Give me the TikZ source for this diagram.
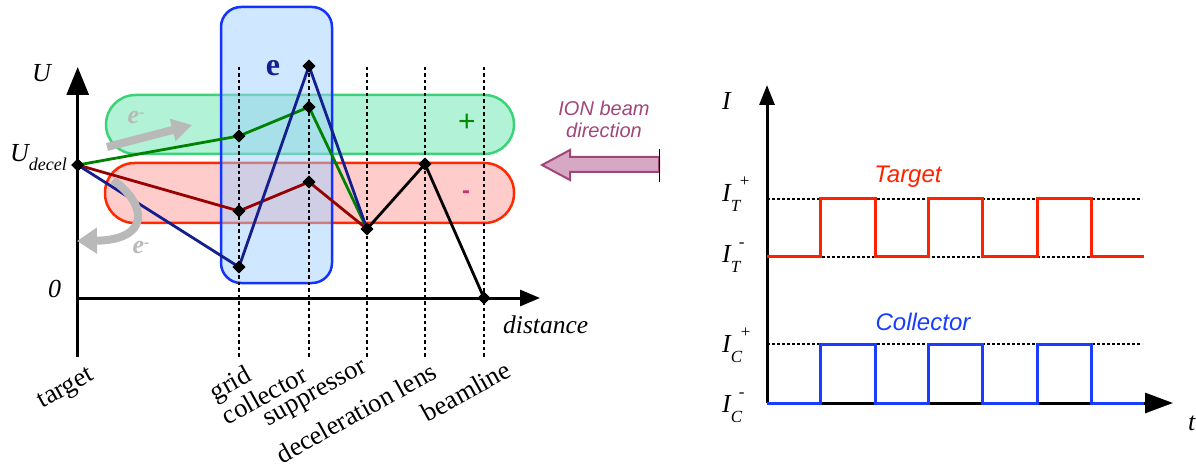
\documentclass[tikz,border=0pt]{standalone}
\usepackage{fontspec}
\setmainfont{Liberation Serif}
\setsansfont{Liberation Sans}
\usetikzlibrary{arrows.meta,shapes.geometric}
\definecolor{cgreen}{RGB}{0,130,0}
\definecolor{cdred}{RGB}{150,0,0}
\definecolor{cnavy}{RGB}{20,30,140}
\definecolor{bgfill}{RGB}{178,242,214}
\definecolor{bgdraw}{RGB}{60,210,120}
\definecolor{brfill}{RGB}{255,204,204}
\definecolor{brdraw}{RGB}{255,40,0}
\definecolor{boxfill}{RGB}{160,208,255}
\definecolor{boxdraw}{RGB}{20,50,255}
\definecolor{plusc}{RGB}{0,140,0}
\definecolor{minusc}{RGB}{200,50,110}
\definecolor{ionc}{RGB}{160,70,120}
\definecolor{ionfill}{RGB}{215,168,196}
\definecolor{grayA}{RGB}{185,185,185}
\definecolor{wred}{RGB}{255,34,0}
\definecolor{wblue}{RGB}{26,60,255}
\newcommand{\Ilbl}[3]{\fontsize{26}{26}\selectfont\itshape I\rlap{\raisebox{-10pt}{\fontsize{17}{17}\selectfont #1}}\kern#3\raisebox{15pt}{\fontsize{17}{17}\selectfont\upshape #2}}
\begin{document}
\begin{tikzpicture}[x=1pt,y=-1pt,
  every node/.style={inner sep=0pt},
  axisline/.style={line width=3pt, draw=black},
  vdash/.style={line width=1.2pt, dash pattern=on 3.5pt off 3pt},
  hdot/.style={line width=1.2pt, dash pattern=on 2.5pt off 2.5pt},
  dmd/.style={diamond, fill=black, minimum width=13pt, minimum height=13pt, inner sep=0pt},
  pline/.style={line width=2.8pt, line join=round},
  lbl/.style={font=\fontsize{26.5}{27}\selectfont, rotate=29, anchor=north east},
  band/.style={line width=2.5pt, rounded corners=29.5pt},
  grayarr/.style={line width=8pt, draw=grayA},
  wave/.style={line width=3pt, line join=miter},
  ax/.style={font=\fontsize{26}{26}\selectfont\itshape, anchor=base west}
]
\useasboundingbox (0,0) rectangle (1196,470);

% bands
\draw[band, fill=bgfill, draw=bgdraw] (106,95) rectangle (514,154);
\draw[band, fill=brfill, draw=brdraw] (105,163) rectangle (514,223);
\node[font=\sffamily\fontsize{30}{30}\selectfont, text=plusc] (plus) at (467,123) {+};
\node[font=\sffamily\bfseries\fontsize{24}{24}\selectfont, text=minusc] (minus) at (466,195) {-};

% blue box
\draw[line width=2.5pt, draw=boxdraw, fill=boxfill, fill opacity=0.5, rounded corners=20pt] (221,7) rectangle (332,283);
\node[font=\bfseries\fontsize{32}{32}\selectfont, text=cnavy] (elabel) at (273,68) {e};

% dashed verticals
\foreach \xx in {239,309,367,425,484} { \draw[vdash] (\xx,67) -- (\xx,357); }

% axes
\coordinate (ubot) at (77.7,357);
\coordinate (utop) at (77.7,67);
\coordinate (dorig) at (77.7,298);
\coordinate (dend) at (540,298);
\draw[axisline, -{Triangle[length=28pt,width=22pt]}] (ubot) -- (utop);
\draw[axisline, -{Triangle[length=20pt,width=16pt]}] (dorig) -- (dend);

% markers
\node[dmd] (ud) at (77.7,165) {};
\node[dmd] (gg) at (239,136) {};
\node[dmd] (cg) at (309,107) {};
\node[dmd] (gr) at (239,211) {};
\node[dmd] (cr) at (309,182) {};
\node[dmd] (gb) at (239,267) {};
\node[dmd] (cb) at (309,66) {};
\node[dmd] (sp) at (367,229) {};
\node[dmd] (dl) at (425,164) {};
\node[dmd] (bl) at (484,298) {};

\draw[pline, draw=cgreen] (ud.center) -- (gg.center) -- (cg.center) -- (sp.center);
\draw[pline, draw=cdred] (ud.center) -- (gr.center) -- (cr.center) -- (sp.center);
\draw[pline, draw=cnavy] (ud.center) -- (gb.center) -- (cb.center) -- (sp.center);
\draw[pline, draw=black] (sp.center) -- (dl.center) -- (bl.center);
\foreach \n in {ud,gg,cg,gr,cr,gb,cb,sp,dl,bl} { \node[dmd] at (\n) {}; }

% gray electron arrows
\coordinate (ga1) at (107,147);
\coordinate (ga2) at (192,125);
\draw[grayarr, -{Triangle[length=20pt,width=22pt]}] (ga1) -- (ga2);
\node[font=\bfseries\itshape\fontsize{26}{26}\selectfont, text=grayA] (e1) at (136,118) {e\raisebox{6pt}{\fontsize{16}{16}\selectfont -}};
\coordinate (gb1) at (113,180);
\coordinate (gb2) at (77,241);
\draw[grayarr, -{Triangle[length=20pt,width=25pt]}] (gb1) .. controls (148,205) and (150,240) .. (gb2);
\node[font=\bfseries\itshape\fontsize{26}{26}\selectfont, text=grayA] (e2) at (141,248) {e\raisebox{6pt}{\fontsize{16}{16}\selectfont -}};

% axis labels left
\node[ax] (Ulab) at (32,82) {U};
\node[ax] (Udec) at (10,162) {U\raisebox{-9pt}{\fontsize{18}{18}\selectfont decel}};
\node[ax] (zero) at (48,297) {0};
\node[ax, font=\fontsize{25.5}{26}\selectfont\itshape] (dist) at (503,333) {distance};

% bottom labels
\node[lbl] (ltarget) at (88,366) {target};
\node[lbl] (lgrid) at (244,364) {grid};
\node[lbl] (lcoll) at (300,364) {collector};
\node[lbl] (lsupp) at (362,360) {suppressor};
\node[lbl] (ldecel) at (430,361) {deceleration lens};
\node[lbl] (lbeam) at (504,359) {beamline};

% ION beam arrow
\draw[line width=2pt, draw=ionc, fill=ionfill, line join=miter]
  (659,157) -- (570,157) -- (570,150) -- (542,165) -- (570,180) -- (570,172) -- (659,172) -- cycle;
\draw[line width=1pt] (659,149) -- (659,182);
\node[font=\sffamily\itshape\fontsize{20}{22}\selectfont, text=ionc, align=center] (ion) at (604,119) {ION beam\\direction};

% right diagram
\coordinate (iorig) at (767,403);
\coordinate (itop) at (767,85);
\coordinate (tend) at (1173,403);
\draw[hdot] (767,199) -- (1142,199);
\draw[hdot] (767,257) -- (1142,257);
\draw[hdot] (767,344) -- (1142,344);
\draw[axisline, -{Triangle[length=20pt,width=15pt]}] (iorig) -- (itop);
\draw[axisline, -{Triangle[length=28pt,width=20pt]}] (iorig) -- (tend);
\draw[wave, draw=wred] (767,257) -- (820,257) -- (820,199) -- (875,199) -- (875,257) -- (928,257) -- (928,199) -- (982,199) -- (982,257) -- (1037,257) -- (1037,199) -- (1091,199) -- (1091,257) -- (1144,257);
\draw[wave, draw=wblue] (767,403) -- (820,403) -- (820,344) -- (875,344) -- (875,403) -- (928,403) -- (928,344) -- (982,344) -- (982,403) -- (1037,403) -- (1037,344) -- (1091,344) -- (1091,403) -- (1144,403);
\node[font=\sffamily\itshape\fontsize{24}{24}\selectfont, text=wred] (ltgt) at (908,177) {Target};
\node[font=\sffamily\itshape\fontsize{24}{24}\selectfont, text=wblue] (lcol) at (923,322) {Collector};

\node[ax] (Ilab) at (722,110) {I};
\node[ax] (tlab) at (1188,430) {t};
\node[anchor=base west] (itp) at (722,202) {\Ilbl{T}{+}{9pt}};
\node[anchor=base west] (itm) at (722,262) {\Ilbl{T}{-}{8pt}};
\node[anchor=base west] (icp) at (722,352) {\Ilbl{C}{+}{10pt}};
\node[anchor=base west] (icm) at (722,412) {\Ilbl{C}{-}{8pt}};
\end{tikzpicture}
\end{document}
